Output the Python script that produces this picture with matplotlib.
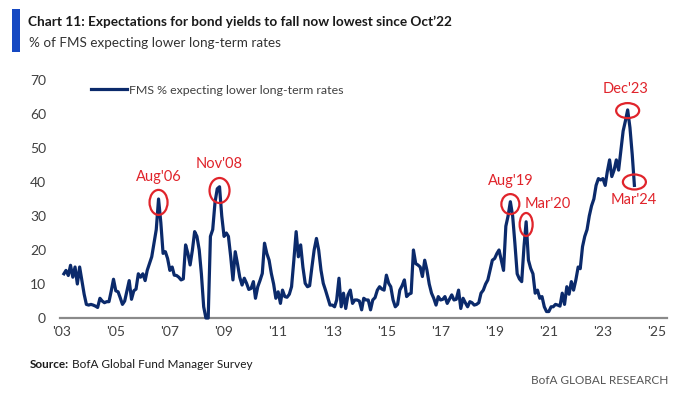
import numpy as np
import pandas as pd
import matplotlib
matplotlib.use("Agg")
import matplotlib.pyplot as plt
import matplotlib.dates as mdates
from matplotlib.patches import Ellipse, Rectangle
from matplotlib.transforms import ScaledTranslation

# monthly readings, Feb 2003 .. Mar 2024
start_month = "2003-02"
fms_lower_rates = [
    13, 14, 12.5, 15.5, 12, 15, 10, 15, 11, 7, 4,                 # 2003
    3.8, 4, 3.8, 3.5, 3.1, 5.8, 5, 4.5, 4.8, 4.8, 8, 11.4,        # 2004
    8, 7.7, 6, 4, 5, 8, 11, 5.5, 8, 8.5, 13, 12,                  # 2005
    13, 11, 14, 16, 18, 22, 26, 35, 28, 19, 19.5, 17.5,           # 2006
    14, 15, 12.6, 12.5, 12, 11.2, 11.5, 21.5, 19, 15.6, 20, 25.4, # 2007
    24, 20, 13, 3.3, 0, 0, 24, 26, 34, 38, 38.6, 30,              # 2008
    24, 25, 24, 18, 11.2, 19.5, 16, 12, 9.7, 11.7, 10.2, 8.4,     # 2009
    8.7, 10.7, 5.8, 9.2, 11, 13.1, 22, 19, 17, 13.1, 10, 5.8,     # 2010
    7.7, 4.3, 8.2, 6.3, 6.1, 7, 9.2, 17, 25.4, 18, 21.5, 15,      # 2011
    10.2, 9.2, 9.5, 15, 20, 23.4, 20, 14.1, 10.2, 8.2, 6, 3.8,    # 2012
    3.8, 3.3, 5.3, 11.7, 3.3, 7.3, 2.8, 6.8, 8.2, 4.3, 5.3, 5.3,  # 2013
    5, 2.4, 5.8, 5.3, 5.3, 2.4, 5.3, 6, 8.2, 9.2, 8.5, 8.2,       # 2014
    12.6, 10.2, 9.2, 5.3, 3.3, 4, 8.2, 9.5, 11.2, 6.3, 7, 7.3,    # 2015
    20, 16, 15.6, 15, 12.2, 17, 14.1, 10, 7.3, 5.8, 3.8, 6.3,     # 2016
    5.3, 5.5, 6.3, 4.3, 5.5, 6.8, 5.3, 5.5, 8.2, 2.8, 5.8, 4.5,   # 2017
    3.3, 4.8, 4.5, 3.8, 4, 4.5, 7.3, 8.2, 10, 11.2, 14.1, 17,     # 2018
    17.5, 19, 20, 17, 14, 27, 30, 34.2, 30, 22, 13, 11.5,         # 2019
    10.7, 21, 28.3, 17, 14.6, 13, 7.3, 8.2, 5.8, 6.3, 3.3, 1.9,   # 2020
    1.9, 3.3, 3.3, 4, 3.8, 3.5, 7.3, 4, 9.2, 7, 10.7, 8.2,        # 2021
    11.2, 15, 14.5, 21, 24, 26, 30, 33, 35, 39, 41, 40.6,         # 2022
    41, 39, 43, 46.5, 41.6, 43.5, 46.5, 43.5, 49.4, 55, 58, 61.2, # 2023
    56, 48, 39,                                                   # 2024
]
dates = pd.date_range(start_month, periods=len(fms_lower_rates), freq="MS")

# circled points: label, month, value at circle centre, circle w/h (px), label offset (px)
call_labels = ["Aug'06", "Nov'08", "Aug'19", "Mar'20", "Dec'23", "Mar'24"]
call_months = ["2006-08", "2008-11", "2019-08", "2020-03", "2023-12", "2024-03"]
call_values = [34, 37.5, 33.5, 27.5, 61, 40]
call_sizes = [(18, 25), (20, 25), (18, 20), (13, 23), (23, 15), (23, 15)]
call_offsets = [(0, 25), (0, 26), (0, 23), (22, 20), (-2, 22), (-1, -18)]

year_ticks = [2003, 2005, 2007, 2009, 2011, 2013, 2015, 2017, 2019, 2021, 2023, 2025]

navy = "#0b2a6b"
red = "#e0242b"
grey = "#404040"
font = "Lato"
plt.rcParams["font.family"] = [font, "DejaVu Sans"]

fig = plt.figure(figsize=(6.74, 3.94), dpi=100)
ax = fig.add_axes([60/674, 76/394, 607/674, 238/394])
renderer = fig.canvas.get_renderer()


def fit_width(txt, target_px):
    # shrink/grow a text so it spans about target_px
    for _ in range(3):
        w = txt.get_window_extent(renderer).width
        txt.set_fontsize(txt.get_fontsize() * target_px / w)


ax.plot(dates, fms_lower_rates, color=navy, lw=2.3, solid_joinstyle="round",
        clip_on=False, label="FMS % expecting lower long-term rates", zorder=3)

ax.set_ylim(0, 70)
ax.set_xlim(pd.Timestamp("2002-12-10"), pd.Timestamp("2025-05-15"))
ax.set_yticks(range(0, 71, 10))
ax.set_xticks([pd.Timestamp(f"{y}-01-01") for y in year_ticks])
ax.set_xticklabels([f"'{y % 100:02d}" for y in year_ticks])
for s in ["top", "right", "left"]:
    ax.spines[s].set_visible(False)
ax.spines["bottom"].set_color("#8a8a8a")
ax.spines["bottom"].set_linewidth(1.6)
ax.tick_params(length=0, labelsize=10, colors=grey)
ax.tick_params(axis="y", pad=10)
ax.tick_params(axis="x", pad=6)

# circles and labels
for lab, m, v, (w, h), (dx, dy) in zip(call_labels, call_months, call_values, call_sizes, call_offsets):
    xd = mdates.date2num(pd.Timestamp(m + "-01"))
    tr = fig.dpi_scale_trans + ScaledTranslation(xd, v, ax.transData)
    ax.add_patch(Ellipse((0, 0), w/100, h/100, transform=tr, fill=False,
                         edgecolor=red, lw=1.6, zorder=4, clip_on=False))
    ax.annotate(lab, (xd, v), xytext=(dx, dy), textcoords="offset pixels",
                ha="center", va="center", color=red, fontsize=10.5)

leg = ax.legend(loc="upper left", bbox_to_anchor=(0.03, 1.035), frameon=False,
                handlelength=2.6, handletextpad=0.15, prop={"size": 10})
for t in leg.get_texts():
    t.set_color(grey)
fit_width(leg.get_texts()[0], 216)

# header
fig.add_artist(Rectangle((12/674, 1 - 52/394), 8/674, 43/394, transform=fig.transFigure,
                         color="#1548c2", lw=0))
title = fig.text(28/674, 1 - 22/394,
                 "Chart 11: Expectations for bond yields to fall now lowest since Oct\u201922",
                 fontsize=11, fontweight="bold", color="#1a1a1a", va="center")
fit_width(title, 427)
sub = fig.text(29/674, 1 - 43/394, "% of FMS expecting lower long-term rates",
               fontsize=11, color="#333333", va="center")
fit_width(sub, 250)

# footer
src = fig.text(30/674, 1 - 364/394, "Source:", fontsize=8.5, fontweight="bold",
               color="#1a1a1a", va="center")
src_w = src.get_window_extent(renderer).width
fig.text((30 + src_w + 3)/674, 1 - 364/394, "BofA Global Fund Manager Survey",
         fontsize=8.5, color="#1a1a1a", va="center")
fig.text(668/674, 1 - 381/394, "BofA GLOBAL RESEARCH", fontsize=8.5,
         color="#555555", va="center", ha="right")

fig.savefig("out.png", dpi=100)
